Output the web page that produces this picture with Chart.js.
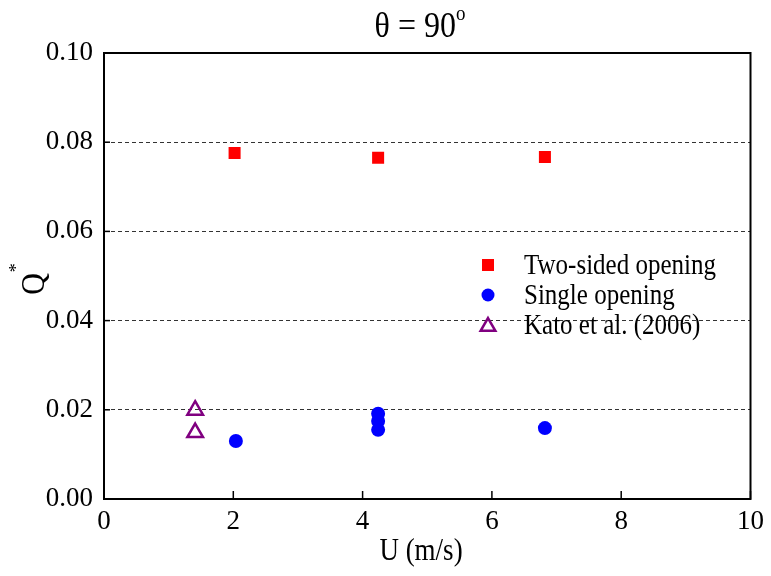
<!DOCTYPE html>
<html>
<head>
<meta charset="utf-8">
<script src="https://cdn.jsdelivr.net/npm/chart.js@4"></script>
<style>
  html, body { margin: 0; padding: 0; background: #fff; }
  #wrap { width: 771px; height: 576px; }
</style>
</head>
<body>
<div id="wrap"><canvas id="chart" width="771" height="576"></canvas></div>
<script>
// data
const twoSidedU = [2.02, 4.24, 6.82];
const twoSidedQ = [0.0776, 0.0765, 0.0767];

const singleU = [2.04, 4.24, 4.24, 4.24, 6.82];
const singleQ = [0.0130, 0.0191, 0.0175, 0.0155, 0.0159];

const katoU = [1.41, 1.41];
const katoQ = [0.0199, 0.0149];

const seriesNames = ["Two-sided opening", "Single opening", "Kato et al. (2006)"];

const FONT = "'Liberation Serif', 'Times New Roman', serif";

function toPoints(xs, ys) {
    return xs.map((x, i) => ({ x, y: ys[i] }));
}

// text drawn slightly taller than wide, like the source figure
function tallText(ctx, str, x, y, sy) {
    ctx.save();
    ctx.translate(x, y);
    ctx.scale(1, sy);
    ctx.fillText(str, 0, 0);
    ctx.restore();
}

// frame, inward ticks, titles and legend
const decorPlugin = {
    id: "decor",
    afterDraw(chart) {
        const { ctx, chartArea: a, scales } = chart;
        ctx.save();

        // frame
        ctx.strokeStyle = "#000";
        ctx.lineWidth = 2;
        ctx.strokeRect(a.left, a.top, a.right - a.left, a.bottom - a.top);

        // inward ticks on left and bottom
        ctx.lineWidth = 1.5;
        scales.x.ticks.forEach((t) => {
            const px = scales.x.getPixelForValue(t.value);
            ctx.beginPath();
            ctx.moveTo(px, a.bottom);
            ctx.lineTo(px, a.bottom - 8);
            ctx.stroke();
        });
        scales.y.ticks.forEach((t) => {
            const py = scales.y.getPixelForValue(t.value);
            ctx.beginPath();
            ctx.moveTo(a.left, py);
            ctx.lineTo(a.left + 6, py);
            ctx.stroke();
        });

        ctx.fillStyle = "#000";

        // title: theta = 90 with superscript o
        ctx.textBaseline = "alphabetic";
        ctx.textAlign = "left";
        ctx.font = "32px " + FONT;
        const main = "\u03b8 = 90";
        const mw = ctx.measureText(main).width;
        ctx.font = "19px " + FONT;
        const sw = ctx.measureText("o").width;
        let tx = 420 - (mw + sw) / 2;
        ctx.font = "32px " + FONT;
        tallText(ctx, main, tx, 37, 1.15);
        ctx.font = "19px " + FONT;
        tallText(ctx, "o", tx + mw, 20, 1.15);

        // x axis title
        ctx.font = "27px " + FONT;
        ctx.textAlign = "center";
        tallText(ctx, "U (m/s)", 421, 560, 1.15);

        // y axis title: Q with superscript *
        ctx.save();
        ctx.translate(44, (a.top + a.bottom) / 2 + 8);
        ctx.rotate(-Math.PI / 2);
        ctx.textAlign = "left";
        ctx.font = "30px " + FONT;
        const qw = ctx.measureText("Q").width;
        ctx.save();
        ctx.scale(1, 1.12);
        ctx.fillText("Q", -qw / 2, 0);
        ctx.restore();
        ctx.font = "18px " + FONT;
        ctx.fillText("*", qw / 2 + 1, -22);
        ctx.restore();

        // legend
        const rows = [265, 295, 325];
        const mx = 488;
        ctx.font = "25px " + FONT;
        ctx.textAlign = "left";
        ctx.textBaseline = "middle";
        chart.data.datasets.forEach((ds, i) => {
            const y = rows[i];
            ctx.save();
            ctx.fillStyle = ds.backgroundColor;
            ctx.strokeStyle = ds.borderColor;
            ctx.lineWidth = ds.borderWidth;
            if (ds.pointStyle === "rect") {
                ctx.fillRect(mx - 6, y - 6, 12, 12);
            } else if (ds.pointStyle === "circle") {
                ctx.beginPath();
                ctx.arc(mx, y, 6.5, 0, Math.PI * 2);
                ctx.fill();
            } else {
                const r = 8.5;
                ctx.beginPath();
                for (let k = 0; k < 3; k++) {
                    const ang = -Math.PI / 2 + k * 2 * Math.PI / 3;
                    const px = mx + Math.cos(ang) * r;
                    const py = y + 1.5 + Math.sin(ang) * r;
                    if (k === 0) ctx.moveTo(px, py); else ctx.lineTo(px, py);
                }
                ctx.closePath();
                ctx.stroke();
            }
            ctx.restore();
            ctx.fillStyle = "#000";
            tallText(ctx, ds.label, 524, y + 1, 1.15);
        });

        ctx.restore();
    }
};

const ctx = document.getElementById("chart").getContext("2d");

new Chart(ctx, {
    type: "scatter",
    data: {
        datasets: [
            {
                label: seriesNames[0],
                data: toPoints(twoSidedU, twoSidedQ),
                pointStyle: "rect",
                pointRadius: 8.5,
                backgroundColor: "#ff0000",
                borderColor: "#ff0000",
                borderWidth: 0,
            },
            {
                label: seriesNames[1],
                data: toPoints(singleU, singleQ),
                pointStyle: "circle",
                pointRadius: 7,
                backgroundColor: "#0000ff",
                borderColor: "#0000ff",
                borderWidth: 0,
            },
            {
                label: seriesNames[2],
                data: toPoints(katoU, katoQ),
                pointStyle: "triangle",
                pointRadius: 9,
                backgroundColor: "rgba(0,0,0,0)",
                borderColor: "#800080",
                borderWidth: 2.5,
            },
        ],
    },
    options: {
        responsive: false,
        animation: false,
        events: [],
        layout: { padding: { top: 53, right: 19, left: 0, bottom: 0 } },
        plugins: {
            legend: { display: false },
            title: { display: false },
            tooltip: { enabled: false },
        },
        scales: {
            x: {
                type: "linear",
                min: 0,
                max: 10,
                ticks: {
                    stepSize: 2,
                    color: "#000",
                    padding: 7,
                    font: { family: FONT, size: 27 },
                },
                grid: { display: false, drawTicks: false },
                border: { display: false },
                afterFit: (s) => { s.height = 77; },
            },
            y: {
                type: "linear",
                min: 0,
                max: 0.1,
                ticks: {
                    stepSize: 0.02,
                    color: "#000",
                    padding: 11,
                    font: { family: FONT, size: 27 },
                    callback: (v) => v.toFixed(2),
                },
                grid: {
                    drawTicks: false,
                    lineWidth: 1,
                    color: (c) => (c.tick && c.tick.value > 0.001 && c.tick.value < 0.099) ? "#333" : "rgba(0,0,0,0)",
                },
                border: { display: false, dash: [4, 3] },
                afterFit: (s) => { s.width = 104; },
            },
        },
    },
    plugins: [decorPlugin],
});
</script>
</body>
</html>
